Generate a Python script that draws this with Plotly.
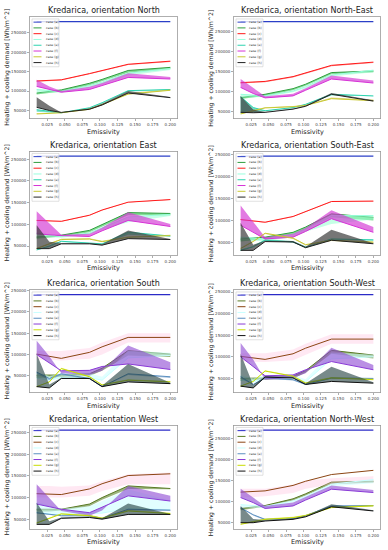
import plotly.graph_objects as go

W, H = 388, 550

# ---------------- data (values in thousand Wh/m^2) ----------------
emissivity = [0.01, 0.028, 0.045, 0.085, 0.103, 0.14, 0.2]
case_labels = ["case (a)", "case (b)", "case (c)", "case (d)", "case (e)", "case (f)", "case (g)", "case (h)"]
panel_titles = ["Kredarica, orientation North", "Kredarica, orientation North-East",
                "Kredarica, orientation East", "Kredarica, orientation South-East",
                "Kredarica, orientation South", "Kredarica, orientation South-West",
                "Kredarica, orientation West", "Kredarica, orientation North-West"]
x_ticks = [0.025, 0.05, 0.075, 0.1, 0.125, 0.15, 0.175, 0.2]
y_ticks = [50000, 100000, 150000, 200000, 250000]

# North
N_a = [279, 279, 279, 279, 279, 279, 279]
N_b = [95, 99, 103, 120, 130, 153, 161];   N_b_edge = [91, 95, 99, 115, 125, 147, 157]
N_c = [126, 127, 129, 145, 153, 169, 177]; N_c_edge = [124, 125, 127, 143, 151, 167, 175]
N_d = [104, 101, 99, 114, 123, 146, 158];  N_d_edge = [96, 96, 96, 109, 117, 140, 154]
N_e = [52, 47, 44, 57, 70, 101, 104];      N_e_edge = [47, 44, 43, 55, 68, 99, 102]
N_f = [112, 104, 97, 104, 114, 135, 131];  N_f_edge = [129, 112, 100, 111, 121, 146, 136]
N_g = [41, 42, 44, 53, 65, 92, 102];       N_g_edge = [43, 44, 45, 55, 67, 95, 104]
N_h = [58, 50, 45, 53, 64, 95, 83];        N_h_edge = [84, 62, 45, 55, 67, 100, 85]

# North-East
NE_a = [274, 274, 274, 274, 274, 274, 274]
NE_b = [85, 89, 93, 107, 118, 147, 151];   NE_b_edge = [81, 85, 89, 103, 114, 143, 148]
NE_c = [122, 123, 125, 137, 146, 165, 173]; NE_c_edge = [120, 121, 123, 135, 144, 163, 171]
NE_d = [93, 90, 89, 101, 112, 141, 153];   NE_d_edge = [85, 85, 86, 98, 108, 137, 148]
NE_e = [87, 60, 52, 60, 68, 93, 89];       NE_e_edge = [45, 48, 50, 58, 66, 90, 88]
NE_f = [110, 95, 84, 89, 103, 131, 121];   NE_f_edge = [131, 108, 88, 94, 108, 140, 127]
NE_g = [44, 52, 59, 62, 65, 82, 77];       NE_g_edge = [46, 54, 61, 64, 67, 85, 80]
NE_h = [48, 47, 48, 56, 63, 93, 76];       NE_h_edge = [89, 55, 49, 57, 65, 96, 78]

# East
E_a = [257, 257, 257, 257, 257, 257, 257]
E_b = [71, 73, 75, 86, 100, 127, 125];     E_b_edge = [67, 69, 72, 82, 95, 121, 121]
E_c = [109, 108, 107, 121, 133, 151, 157]; E_c_edge = [108, 107, 106, 120, 132, 150, 156]
E_d = [80, 76, 72, 80, 92, 117, 123];      E_d_edge = [72, 70, 69, 77, 88, 105, 119]
E_e = [41, 50, 61, 58, 55, 82, 73];        E_e_edge = [40, 48, 59, 56, 54, 76, 72]
E_f = [78, 76, 74, 72, 85, 109, 95];       E_f_edge = [130, 103, 76, 78, 92, 128, 101]
E_g = [44, 55, 65, 66, 60, 70, 74];        E_g_edge = [46, 57, 67, 68, 62, 72, 76]
E_h = [44, 44, 55, 55, 52, 67, 65];        E_h_edge = [98, 60, 57, 57, 54, 86, 66]

# South-East
SE_a = [246, 246, 246, 246, 246, 246, 246]
SE_b = [58, 60, 62, 73, 85, 115, 107];     SE_b_edge = [52, 55, 58, 68, 80, 107, 100]
SE_c = [102, 99, 96, 109, 120, 143, 144];  SE_c_edge = [101, 98, 95, 108, 119, 142, 143]
SE_d = [62, 60, 58, 68, 80, 111, 111];     SE_d_edge = [55, 54, 53, 62, 74, 92, 102]
SE_e = [32, 40, 55, 51, 39, 58, 56];       SE_e_edge = [34, 42, 57, 53, 41, 56, 54]
SE_f = [89, 74, 58, 62, 75, 104, 73];      SE_f_edge = [134, 98, 62, 70, 83, 123, 85]
SE_g = [36, 52, 71, 60, 45, 55, 51];       SE_g_edge = [38, 54, 69, 58, 43, 53, 49]
SE_h = [32, 32, 52, 51, 38, 55, 47];       SE_h_edge = [95, 45, 54, 53, 40, 79, 48]

# South
S_a = [240, 240, 240, 240, 240, 240, 240]
S_b = [52, 52, 52, 55, 68, 109, 101];      S_b_edge = [45, 46, 48, 50, 62, 98, 94]
S_c = [101, 96, 91, 105, 118, 140, 140];   S_c_lo = [88, 88, 86, 90, 100, 128, 128]; S_c_hi = [108, 108, 108, 115, 128, 150, 150]
S_d = [45, 40, 46, 46, 40, 92, 98];        S_d_edge = [60, 50, 56, 56, 48, 109, 104]
S_e = [59, 44, 55, 44, 25, 55, 48];        S_e_edge = [55, 40, 52, 42, 24, 52, 45]
S_f = [100, 80, 62, 63, 72, 78, 65];       S_f_edge = [132, 96, 56, 52, 62, 121, 82]
S_g = [25, 36, 67, 48, 29, 40, 36];        S_g_edge = [26, 37, 69, 50, 30, 42, 38]
S_h = [25, 22, 44, 44, 25, 36, 32];        S_h_edge = [101, 30, 46, 46, 27, 78, 34]

# South-West
SW_a = [244, 244, 244, 244, 244, 244, 244]
SW_b = [50, 50, 51, 55, 68, 115, 104];     SW_b_edge = [44, 45, 47, 50, 63, 107, 96]
SW_c = [101, 98, 94, 107, 120, 141, 141];  SW_c_lo = [89, 89, 88, 92, 104, 130, 130]; SW_c_hi = [108, 108, 108, 117, 130, 152, 152]
SW_d = [46, 42, 50, 50, 42, 95, 100];      SW_d_edge = [58, 50, 58, 58, 48, 110, 105]
SW_e = [54, 36, 51, 47, 36, 51, 50];       SW_e_edge = [51, 34, 49, 45, 35, 49, 48]
SW_f = [100, 78, 56, 58, 70, 89, 70];      SW_f_edge = [132, 94, 47, 51, 62, 121, 81]
SW_g = [32, 43, 67, 55, 39, 51, 47];       SW_g_edge = [33, 44, 69, 57, 41, 53, 49]
SW_h = [32, 28, 53, 51, 36, 43, 39];       SW_h_edge = [107, 35, 55, 53, 38, 77, 41]

# West
W_a = [256, 256, 256, 256, 256, 256, 256]
W_b = [73, 73, 73, 85, 100, 127, 121];     W_b_edge = [68, 68, 70, 80, 95, 120, 119]
W_c = [109, 108, 107, 120, 132, 151, 155]; W_c_lo = [100, 100, 100, 104, 115, 131, 131]; W_c_hi = [127, 127, 125, 128, 138, 154, 158]
W_d = [66, 62, 60, 63, 64, 75, 72];        W_d_edge = [90, 82, 74, 80, 92, 119, 93]
W_e = [65, 62, 58, 58, 52, 73, 71];        W_e_edge = [63, 60, 57, 57, 51, 70, 69]
W_f = [85, 79, 73, 65, 78, 104, 92];       W_f_edge = [131, 100, 69, 58, 70, 127, 104]
W_g = [41, 52, 62, 58, 52, 69, 63];        W_g_edge = [43, 54, 64, 60, 54, 71, 65]
W_h = [38, 38, 52, 54, 50, 61, 61];        W_h_edge = [88, 45, 54, 56, 52, 86, 62]

# North-West
NW_a = [270, 270, 270, 270, 270, 270, 270]
NW_b = [83, 87, 90, 106, 118, 146, 148];   NW_b_edge = [79, 83, 87, 102, 114, 141, 145]
NW_c = [122, 123, 125, 138, 148, 164, 174]; NW_c_lo = [110, 110, 112, 120, 130, 140, 145]; NW_c_hi = [130, 130, 130, 140, 150, 155, 160]
NW_d = [92, 90, 88, 101, 112, 141, 152];   NW_d_edge = [85, 84, 84, 97, 108, 136, 143]
NW_e = [85, 68, 57, 59, 66, 89, 90];       NW_e_edge = [82, 66, 55, 57, 64, 86, 88]
NW_f = [109, 97, 83, 89, 103, 129, 121];   NW_f_edge = [130, 108, 89, 97, 110, 138, 127]
NW_g = [45, 51, 57, 61, 66, 85, 89];       NW_g_edge = [47, 53, 59, 63, 68, 87, 91]
NW_h = [49, 49, 53, 57, 63, 87, 77];       NW_h_edge = [89, 58, 55, 59, 65, 93, 79]

# ---------------- styles ----------------
g1_line = ['#2b3fc7', '#2e9e3e', '#ff1a1a', '#99ffdd', '#2ed3b0', '#d633d6', '#c8c832', '#222222']
g1_fill = [None, 'rgba(50,200,80,0.6)', 'rgba(255,40,40,0.5)', 'rgba(150,255,210,0.55)',
           'rgba(40,210,170,0.6)', 'rgba(210,50,210,0.65)', 'rgba(200,190,50,0.6)', 'rgba(60,60,60,0.7)']
g2_line = ['#2b2bc7', '#5a7a25', '#8b4513', '#c8ffff', '#5b8fc0', '#8a3ad6', '#c8dc00', '#111111']
g2_fill = [None, 'rgba(90,130,40,0.6)', 'rgba(255,180,215,0.3)', 'rgba(200,255,255,0.55)',
           'rgba(90,140,190,0.5)', 'rgba(140,70,210,0.6)', 'rgba(200,220,0,0.5)', 'rgba(30,60,60,0.6)']

K = 1000  # thousand -> Wh/m^2

panels = [
    (N_a, [(N_b, N_b_edge), (N_c, N_c_edge), (N_d, N_d_edge), (N_e, N_e_edge), (N_f, N_f_edge), (N_g, N_g_edge), (N_h, N_h_edge)], 1),
    (NE_a, [(NE_b, NE_b_edge), (NE_c, NE_c_edge), (NE_d, NE_d_edge), (NE_e, NE_e_edge), (NE_f, NE_f_edge), (NE_g, NE_g_edge), (NE_h, NE_h_edge)], 1),
    (E_a, [(E_b, E_b_edge), (E_c, E_c_edge), (E_d, E_d_edge), (E_e, E_e_edge), (E_f, E_f_edge), (E_g, E_g_edge), (E_h, E_h_edge)], 1),
    (SE_a, [(SE_b, SE_b_edge), (SE_c, SE_c_edge), (SE_d, SE_d_edge), (SE_e, SE_e_edge), (SE_f, SE_f_edge), (SE_g, SE_g_edge), (SE_h, SE_h_edge)], 1),
    (S_a, [(S_b, S_b_edge), (S_c, S_c_lo, S_c_hi), (S_d, S_d_edge), (S_e, S_e_edge), (S_f, S_f_edge), (S_g, S_g_edge), (S_h, S_h_edge)], 2),
    (SW_a, [(SW_b, SW_b_edge), (SW_c, SW_c_lo, SW_c_hi), (SW_d, SW_d_edge), (SW_e, SW_e_edge), (SW_f, SW_f_edge), (SW_g, SW_g_edge), (SW_h, SW_h_edge)], 2),
    (W_a, [(W_b, W_b_edge), (W_c, W_c_lo, W_c_hi), (W_d, W_d_edge), (W_e, W_e_edge), (W_f, W_f_edge), (W_g, W_g_edge), (W_h, W_h_edge)], 2),
    (NW_a, [(NW_b, NW_b_edge), (NW_c, NW_c_lo, NW_c_hi), (NW_d, NW_d_edge), (NW_e, NW_e_edge), (NW_f, NW_f_edge), (NW_g, NW_g_edge), (NW_h, NW_h_edge)], 2),
]

# frame positions in pixels
col_px = [(30, 177), (234, 380)]
row_px = [(15, 117), (150, 254), (289, 392), (425, 529)]

fig = go.Figure()
layout = dict(width=W, height=H, margin=dict(l=0, r=0, t=0, b=0),
              paper_bgcolor='white', plot_bgcolor='white', showlegend=False,
              font=dict(family='DejaVu Sans', color='#222'))
shapes = []
annotations = []

def px2x(px):
    return px / W

def px2y(py):
    return 1 - py / H

for i, (a_vals, cases, grp) in enumerate(panels):
    r, c = divmod(i, 2)
    x0, x1 = col_px[c]
    y0, y1 = row_px[r]
    n = i + 1
    xa = 'x' if n == 1 else f'x{n}'
    ya = 'y' if n == 1 else f'y{n}'
    lc = g1_line if grp == 1 else g2_line
    fc = g1_fill if grp == 1 else g2_fill

    allv = list(a_vals)
    fig.add_trace(go.Scatter(x=emissivity, y=[v * K for v in a_vals], mode='lines',
                             line=dict(color=lc[0], width=1.3), xaxis=xa, yaxis=ya, hoverinfo='skip'))
    for j, cs in enumerate(cases, start=1):
        line = cs[0]
        if len(cs) == 3:
            lo, hi = cs[1], cs[2]
            fig.add_trace(go.Scatter(x=emissivity, y=[v * K for v in lo], mode='lines',
                                     line=dict(width=0), xaxis=xa, yaxis=ya, hoverinfo='skip'))
            fig.add_trace(go.Scatter(x=emissivity, y=[v * K for v in hi], mode='lines',
                                     line=dict(width=0), fill='tonexty', fillcolor=fc[j],
                                     xaxis=xa, yaxis=ya, hoverinfo='skip'))
            allv += lo + hi
        else:
            edge = cs[1]
            fig.add_trace(go.Scatter(x=emissivity, y=[v * K for v in edge], mode='lines',
                                     line=dict(width=0), xaxis=xa, yaxis=ya, hoverinfo='skip'))
            fig.add_trace(go.Scatter(x=emissivity, y=[v * K for v in line], mode='lines',
                                     line=dict(width=0), fill='tonexty', fillcolor=fc[j],
                                     xaxis=xa, yaxis=ya, hoverinfo='skip'))
            allv += edge
        allv += line
        fig.add_trace(go.Scatter(x=emissivity, y=[v * K for v in line], mode='lines',
                                 line=dict(color=lc[j], width=1.0), xaxis=xa, yaxis=ya, hoverinfo='skip'))

    vmin, vmax = min(allv) * K, max(allv) * K
    pad = 0.05 * (vmax - vmin)
    axis_common = dict(showline=True, linecolor='#9a9a9a', linewidth=0.8, mirror=True,
                       ticks='outside', ticklen=2, tickwidth=0.6, tickcolor='#777',
                       showgrid=False, zeroline=False,
                       tickfont=dict(size=4, color='#444'))
    layout['xaxis' + ('' if n == 1 else str(n))] = dict(
        domain=[px2x(x0), px2x(x1)], anchor=ya, range=[0.0005, 0.2095],
        tickvals=x_ticks, tickformat='.3f', **axis_common)
    layout['yaxis' + ('' if n == 1 else str(n))] = dict(
        domain=[px2y(y1), px2y(y0)], anchor=xa, range=[vmin - pad, vmax + pad],
        tickvals=y_ticks, tickformat='d', **axis_common)

    annotations.append(dict(text=panel_titles[i], x=px2x((x0 + x1) / 2), y=px2y(y0 - 6),
                            xref='paper', yref='paper', showarrow=False, xanchor='center',
                            yanchor='middle', font=dict(size=8, color='#222')))
    annotations.append(dict(text='Emissivity', x=px2x((x0 + x1) / 2), y=px2y(y1 + 13),
                            xref='paper', yref='paper', showarrow=False, xanchor='center',
                            yanchor='middle', font=dict(size=6.5, color='#222')))
    annotations.append(dict(text='Heating + cooling demand [Wh/m^2]', textangle=-90,
                            x=px2x(x0 - 23), y=px2y((y0 + y1) / 2),
                            xref='paper', yref='paper', showarrow=False, xanchor='center',
                            yanchor='middle', font=dict(size=6.2, color='#222')))

    lx0, ly0 = x0 + 2, y0 + 2
    shapes.append(dict(type='rect', xref='paper', yref='paper',
                       x0=px2x(lx0), x1=px2x(lx0 + 27), y0=px2y(ly0), y1=px2y(ly0 + 48),
                       line=dict(color='#cccccc', width=0.6), fillcolor='rgba(255,255,255,0.8)'))
    for k in range(8):
        yy = ly0 + 3.2 + k * 5.8
        shapes.append(dict(type='line', xref='paper', yref='paper',
                           x0=px2x(lx0 + 1.5), x1=px2x(lx0 + 9.5), y0=px2y(yy), y1=px2y(yy),
                           line=dict(color=lc[k], width=1.0)))
        annotations.append(dict(text=case_labels[k], x=px2x(lx0 + 11.5), y=px2y(yy),
                                xref='paper', yref='paper', showarrow=False, xanchor='left',
                                yanchor='middle', font=dict(size=3.2, color='#333')))

layout['shapes'] = shapes
layout['annotations'] = annotations
fig.update_layout(**layout)
fig.write_html("out.html", config={'displayModeBar': False, 'staticPlot': True},
               post_script="document.body.style.margin='0';document.body.style.overflow='hidden';")
